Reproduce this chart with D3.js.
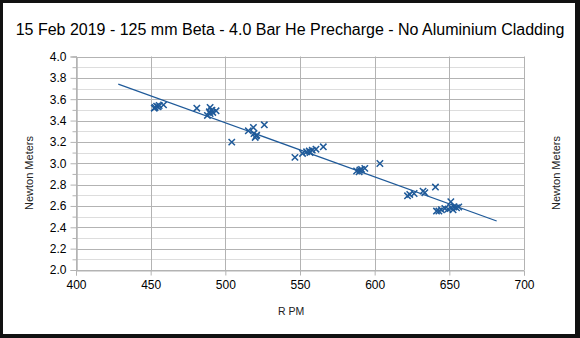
<!DOCTYPE html>
<html><head><meta charset="utf-8">
<script src="https://cdn.jsdelivr.net/npm/d3@7"></script>
<style>body{margin:0;background:#000}svg{display:block}</style>
</head><body><svg id="c" width="580" height="338"></svg>
<script>
const title = "15 Feb 2019 - 125 mm Beta - 4.0 Bar He Precharge - No Aluminium Cladding";
const xLabel = "R PM";
const yLabel = "Newton Meters";
const xTicks = [400,450,500,550,600,650,700];
const yTicks = [2.0,2.2,2.4,2.6,2.8,3.0,3.2,3.4,3.6,3.8,4.0];
const rpm = [452.4,453.0,454.0,455.0,455.7,458.6,
  480.9,489.8,489.3,491.0,493.8,488.0,489.8,491.6,
  504.3,515.4,518.8,519.2,520.6,520.0,521.0,526.1,
  546.6,551.7,554.4,556.7,558.2,560.7,565.6,556.2,
  587.9,590.1,591.2,593.4,589.6,603.5,
  622.0,623.5,626.4,632.4,633.6,640.7,
  641.4,643.0,644.7,647.0,649.2,651.0,651.4,653.2,654.8,656.3,652.5];
const nm = [3.516,3.523,3.535,3.528,3.541,3.547,
  3.516,3.523,3.482,3.497,3.491,3.448,3.466,3.476,
  3.198,3.304,3.335,3.279,3.254,3.242,3.263,3.360,
  3.055,3.092,3.107,3.101,3.123,3.132,3.154,3.114,
  2.927,2.936,2.942,2.952,2.920,2.998,
  2.695,2.708,2.717,2.739,2.724,2.777,
  2.552,2.552,2.564,2.577,2.571,2.639,2.583,2.592,2.583,2.590,2.564];
const trendX = [428.3,681.7];
const trendY = [3.741,2.459];

const svg = d3.select("#c");
svg.append("rect").attr("x",0).attr("y",0).attr("width",580).attr("height",338).attr("fill","#111");
svg.append("rect").attr("x",3).attr("y",3).attr("width",572).attr("height",331).attr("fill","#fff");

const x = d3.scaleLinear().domain([400,700]).range([76,524]);
const y = d3.scaleLinear().domain([2,4]).range([270,56.5]);
const font = "Liberation Sans, Arial, sans-serif";

// minor horizontal grid
const minor = d3.range(2.1,4.0,0.2).map(v=>+v.toFixed(1));
svg.append("g").selectAll("line").data(minor).join("line")
  .attr("x1",x(400)).attr("x2",x(700))
  .attr("y1",d=>Math.round(y(d))+0.5).attr("y2",d=>Math.round(y(d))+0.5)
  .attr("stroke","#dddddd");
svg.append("g").selectAll("line").data(yTicks).join("line")
  .attr("x1",x(400)).attr("x2",x(700))
  .attr("y1",d=>Math.round(y(d))+0.5).attr("y2",d=>Math.round(y(d))+0.5)
  .attr("stroke","#b3b3b3");
svg.append("g").selectAll("line").data(xTicks).join("line")
  .attr("y1",y(2)).attr("y2",y(4))
  .attr("x1",d=>Math.round(x(d))+0.5).attr("x2",d=>Math.round(x(d))+0.5)
  .attr("stroke","#b3b3b3");

// axes
const gy = svg.append("g").attr("transform",`translate(${Math.round(x(400))+0.5},0)`)
  .call(d3.axisLeft(y).tickValues(yTicks).tickFormat(d3.format(".1f")).tickSize(6).tickPadding(4));
const gyMinor = svg.append("g").attr("transform",`translate(${Math.round(x(400))+0.5},0)`)
  .call(d3.axisLeft(y).tickValues(minor).tickFormat("").tickSize(4));
const gx = svg.append("g").attr("transform",`translate(0,${Math.round(y(2))+0.5})`)
  .call(d3.axisBottom(x).tickValues(xTicks).tickFormat(d3.format("d")).tickSize(5).tickPadding(5));
[gy,gyMinor,gx].forEach(g=>{
  g.select(".domain").attr("stroke","#b3b3b3");
  g.selectAll(".tick line").attr("stroke","#b3b3b3");
  g.selectAll("text").attr("font-family",font).attr("font-size",12).attr("fill","#000");
});

// trend
svg.append("path").datum(trendX.map((d,i)=>[d,trendY[i]]))
  .attr("d",d3.line().x(d=>x(d[0])).y(d=>y(d[1])))
  .attr("stroke","#1f5a99").attr("stroke-width",1.2).attr("fill","none");

// markers
const s = 3.2;
svg.append("g").selectAll("path").data(rpm.map((d,i)=>[d,nm[i]])).join("path")
  .attr("d",d=>{const cx=x(d[0]),cy=y(d[1]);return `M${cx-s},${cy-s}L${cx+s},${cy+s}M${cx-s},${cy+s}L${cx+s},${cy-s}`;})
  .attr("stroke","#1f5a99").attr("stroke-width",1.5).attr("fill","none");

// texts
svg.append("text").attr("x",290).attr("y",35).attr("text-anchor","middle")
  .attr("font-family",font).attr("font-size",16).attr("fill","#000").text(title);
svg.append("text").attr("x",291).attr("y",315).attr("text-anchor","middle")
  .attr("font-family",font).attr("font-size",10.5).attr("fill","#222").text(xLabel);
[28.5+4,555.5+4].forEach(cx=>{
  svg.append("text").attr("transform",`translate(${cx},173) rotate(-90)`).attr("text-anchor","middle")
    .attr("font-family",font).attr("font-size",11).attr("fill","#222").text(yLabel);
});
</script></body></html>
